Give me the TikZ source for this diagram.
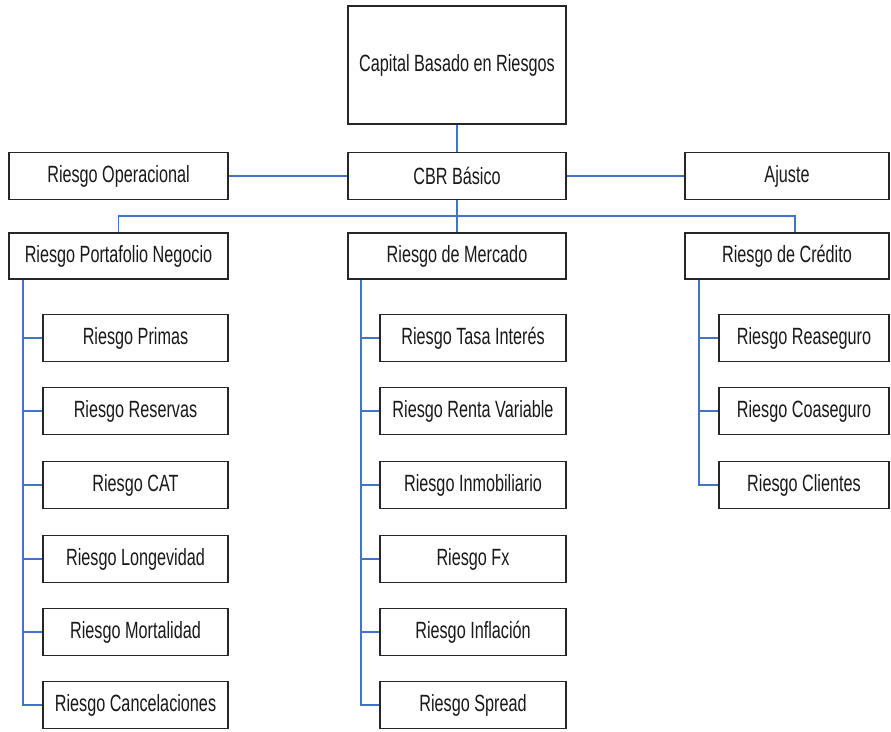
\documentclass[tikz,border=0pt]{standalone}
\usepackage{fontspec}
\setmainfont[FakeStretch=0.69]{Liberation Sans}
\definecolor{linkblue}{RGB}{68,114,196}
\begin{document}
\begin{tikzpicture}[x=1pt,y=-1pt,
  box/.style={draw=black!85, line width=1.1pt, fill=white, inner sep=0pt,
    font=\fontsize{23.5}{25}\selectfont, text=black!90, anchor=center},
  conn/.style={draw=linkblue, line width=1.5pt}]
\useasboundingbox (0,0) rectangle (891,731);
% top level
\node[box, minimum width=218pt, minimum height=118pt] (cbrtot) at (457,65) {Capital Basado en Riesgos};
\node[box, minimum width=218pt, minimum height=47pt] (cbr) at (457,176) {CBR Básico};
\node[box, minimum width=219pt, minimum height=47pt] (op) at (118.5,176) {Riesgo Operacional};
\node[box, minimum width=204pt, minimum height=47pt] (aj) at (787,176) {Ajuste};
% second level
\node[box, minimum width=219pt, minimum height=46pt] (port) at (118.5,256) {Riesgo Portafolio Negocio};
\node[box, minimum width=218pt, minimum height=46pt] (merc) at (457,256) {Riesgo de Mercado};
\node[box, minimum width=204pt, minimum height=46pt] (cred) at (787,256) {Riesgo de Crédito};
% children of portafolio
\foreach \n/\t/\y in {p1/Riesgo Primas/338, p2/Riesgo Reservas/411, p3/Riesgo CAT/485, p4/Riesgo Longevidad/559, p5/Riesgo Mortalidad/632, p6/Riesgo Cancelaciones/705}
  \node[box, minimum width=185pt, minimum height=47pt] (\n) at (135.5,\y) {\t};
% children of mercado
\foreach \n/\t/\y in {m1/Riesgo Tasa Interés/338, m2/Riesgo Renta Variable/411, m3/Riesgo Inmobiliario/485, m4/Riesgo Fx/559, m5/Riesgo Inflación/632, m6/Riesgo Spread/705}
  \node[box, minimum width=186pt, minimum height=47pt] (\n) at (473,\y) {\t};
% children of credito
\foreach \n/\t/\y in {c1/Riesgo Reaseguro/338, c2/Riesgo Coaseguro/411, c3/Riesgo Clientes/485}
  \node[box, minimum width=170pt, minimum height=47pt] (\n) at (804,\y) {\t};
% connectors
\draw[conn] (cbrtot.south) -- (cbr.north);
\draw[conn] (op.east) -- (cbr.west);
\draw[conn] (cbr.east) -- (aj.west);
\coordinate (busR) at (795,216);
\draw[conn] (cbr.south) -- (merc.north);
\draw[conn] (port.north) -- (port.north |- busR) -- (busR) -- (busR |- cred.north);
\coordinate (pv) at (23,0);
\coordinate (mv) at (361,0);
\coordinate (cv) at (699,0);
\draw[conn] (pv |- port.south) -- (pv |- p6.west) -- (p6.west);
\foreach \n in {p1,p2,p3,p4,p5} \draw[conn] (pv |- \n.west) -- (\n.west);
\draw[conn] (mv |- merc.south) -- (mv |- m6.west) -- (m6.west);
\foreach \n in {m1,m2,m3,m4,m5} \draw[conn] (mv |- \n.west) -- (\n.west);
\draw[conn] (cv |- cred.south) -- (cv |- c3.west) -- (c3.west);
\foreach \n in {c1,c2} \draw[conn] (cv |- \n.west) -- (\n.west);
\end{tikzpicture}
\end{document}
